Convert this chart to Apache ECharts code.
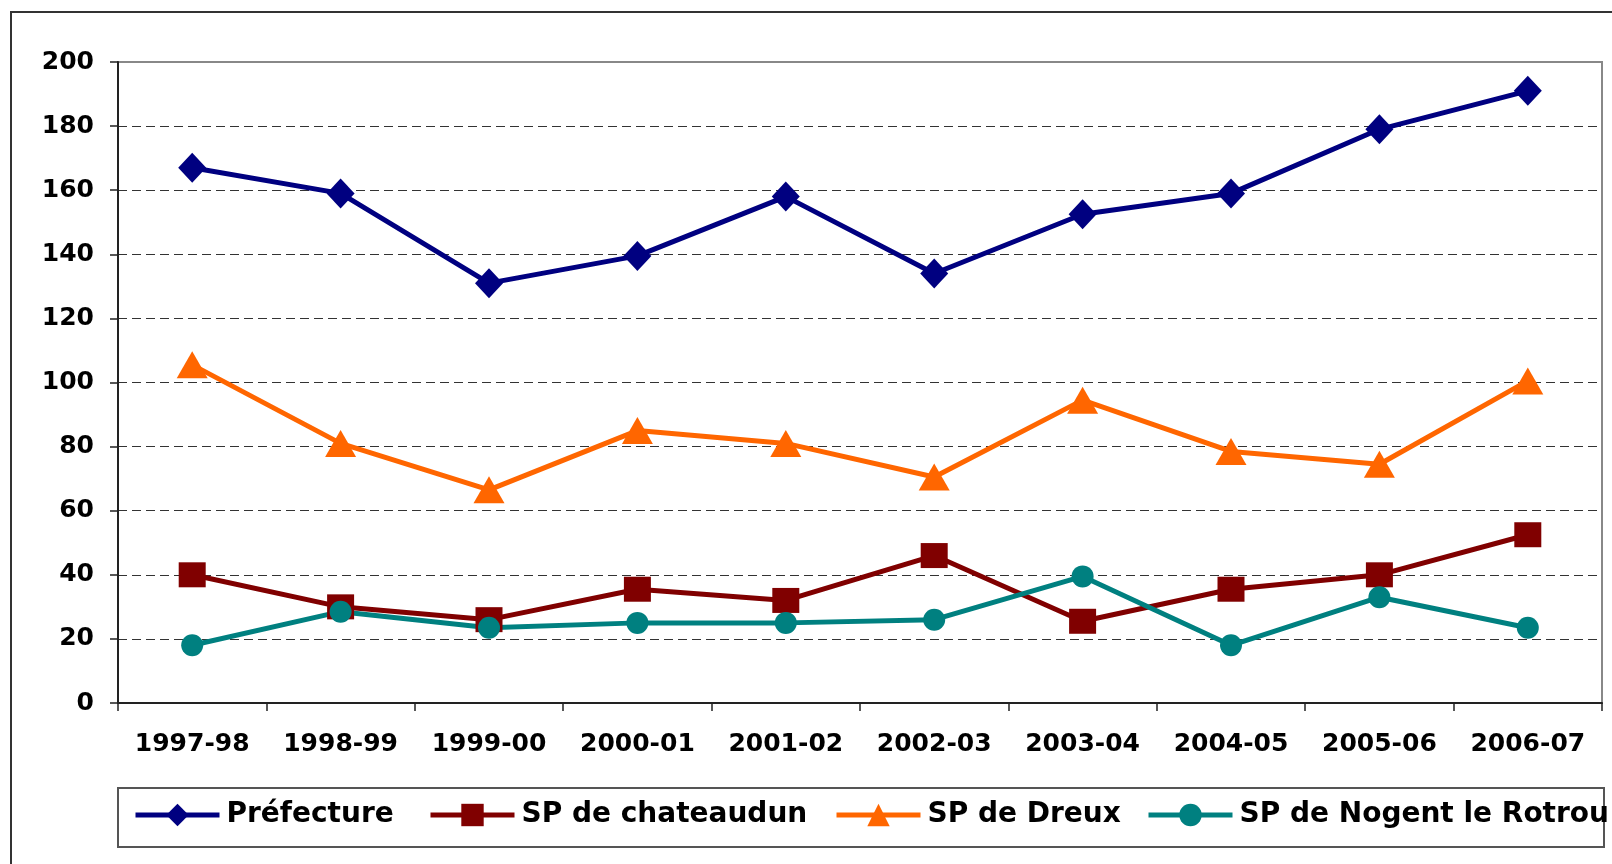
<!DOCTYPE html>
<html>
<head>
<meta charset="utf-8">
<title>Evolution 1997-2007</title>
<script src="https://cdn.jsdelivr.net/npm/echarts@6/dist/echarts.min.js"></script>
<style>
  html, body { margin: 0; padding: 0; background: #fff; }
  #main { width: 1612px; height: 864px; }
</style>
</head>
<body>
<div id="main"></div>
<script>
// categories and values
const years = ['1997-98', '1998-99', '1999-00', '2000-01', '2001-02', '2002-03', '2003-04', '2004-05', '2005-06', '2006-07']
const prefecture = [167, 159, 131, 139.5, 158, 134, 152.5, 159, 179, 191]
const chateaudun = [40, 30, 26, 35.5, 32, 46, 25.5, 35.5, 40, 52.5]
const dreux = [105.5, 81, 66.5, 85, 81, 70.5, 94.5, 78.5, 74.5, 100.5]
const nogent = [18, 28.5, 23.5, 25, 25, 26, 39.5, 18, 33, 23.5]
const yTicks = { min: 0, max: 200, interval: 20 }

const FONT = 'DejaVu Sans'
const chartDom = document.getElementById('main')
const myChart = echarts.init(chartDom)

const mkLegend = (name, left) => ({
  data: [name],
  left: left,
  top: 801,
  padding: 0,
  itemWidth: 84,
  itemHeight: 28,
  itemGap: 0,
  lineStyle: { width: 5 },
  textStyle: { fontFamily: FONT, fontWeight: 'bold', fontSize: 28, color: '#000', padding: [0, 0, 0, 2] },
})

var option = {
  animation: false,
  backgroundColor: '#fff',
  graphic: [
    // outer chart frame (runs off the right and bottom of the picture)
    {
      type: 'rect',
      shape: { x: 11, y: 12, width: 1700, height: 900 },
      style: { fill: 'none', stroke: '#333', lineWidth: 2 },
      silent: true,
    },
    // legend box
    {
      type: 'rect',
      shape: { x: 118, y: 788, width: 1486, height: 59 },
      style: { fill: 'none', stroke: '#555', lineWidth: 2 },
      silent: true,
    },
  ],
  legend: [
    mkLegend('Préfecture', 133),
    mkLegend('SP de chateaudun', 428),
    mkLegend('SP de Dreux', 834),
    mkLegend('SP de Nogent le Rotrou', 1146),
  ],
  grid: {
    left: 118,
    top: 62,
    right: 10,
    bottom: 161,
    show: true,
    borderColor: '#888',
    borderWidth: 2,
    containLabel: false,
  },
  xAxis: {
    type: 'category',
    boundaryGap: true,
    data: years,
    axisLine: { lineStyle: { color: '#222', width: 2 } },
    axisTick: { show: true, length: 8, lineStyle: { color: '#222', width: 1.5 } },
    axisLabel: {
      fontFamily: FONT,
      fontWeight: 'bold',
      fontSize: 25,
      color: '#000',
      margin: 29,
      interval: 0,
    },
    splitLine: { show: false },
  },
  yAxis: {
    type: 'value',
    min: yTicks.min,
    max: yTicks.max,
    interval: yTicks.interval,
    axisLine: { show: true, lineStyle: { color: '#222', width: 2 } },
    axisTick: { show: true, length: 8, lineStyle: { color: '#222', width: 1.5 } },
    axisLabel: {
      fontFamily: FONT,
      fontWeight: 'bold',
      fontSize: 25,
      color: '#000',
      margin: 24,
    },
    splitLine: {
      show: true,
      showMinLine: false,
      showMaxLine: false,
      lineStyle: { color: '#333', width: 1, type: [9, 5] },
    },
  },
  series: [
    {
      name: 'Préfecture',
      type: 'line',
      data: prefecture,
      symbol: 'diamond',
      symbolSize: [28, 30],
      lineStyle: { color: '#000080', width: 5 },
      itemStyle: { color: '#000080' },
    },
    {
      name: 'SP de chateaudun',
      type: 'line',
      data: chateaudun,
      symbol: 'rect',
      symbolSize: [27, 25],
      lineStyle: { color: '#800000', width: 5 },
      itemStyle: { color: '#800000' },
    },
    {
      name: 'SP de Dreux',
      type: 'line',
      data: dreux,
      symbol: 'triangle',
      symbolSize: [31, 27],
      lineStyle: { color: '#FF6600', width: 5 },
      itemStyle: { color: '#FF6600' },
    },
    {
      name: 'SP de Nogent le Rotrou',
      type: 'line',
      data: nogent,
      symbol: 'circle',
      symbolSize: 22,
      lineStyle: { color: '#008080', width: 5 },
      itemStyle: { color: '#008080' },
    },
  ],
}
option && myChart.setOption(option)
</script>
</body>
</html>
